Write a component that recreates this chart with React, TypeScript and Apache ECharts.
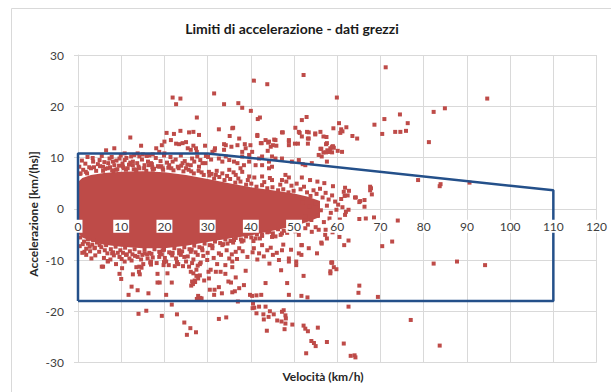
import React, { useEffect, useRef } from "react";
import * as echarts from "echarts";

// Acceleration limits envelope (speed km/h, acceleration km/(h·s))
const limitSpeed = [0, 0, 30, 110, 110, 0];
const limitAccel = [-18, 10.8, 10.8, 3.6, -18, -18];

// Dense core of the raw samples: upper and lower edge per speed
const coreSpeed = [0, 1, 3, 6, 10, 15, 20, 25, 30, 35, 40, 45, 50, 53, 56];
const coreTop = [5.2, 6.0, 6.6, 7.0, 7.2, 7.3, 7.1, 6.6, 5.8, 5.0, 4.2, 3.6, 3.0, 2.4, 1.5];
const coreBottom = [-4.8, -5.6, -6.3, -7.0, -7.4, -7.7, -7.7, -7.2, -6.5, -5.8, -5.2, -4.3, -3.4, -2.6, -1.6];

// Samples along the rim of the dense core
const cloudFringe: [number, number][] = [
  [0.4, 6.8], [1.2, 7.6], [2.1, 6.9], [3.0, 7.9], [4.2, 7.4], [5.1, 8.3], [6.3, 7.8], [7.4, 8.1],
  [8.2, 7.3], [9.5, 8.4], [10.6, 7.9], [11.8, 8.6], [12.9, 7.7], [14.0, 8.2], [15.3, 7.9], [16.4, 8.5],
  [17.6, 7.8], [18.5, 8.3], [19.7, 7.6], [20.9, 8.0], [22.1, 7.5], [23.3, 7.9], [24.4, 7.3], [25.6, 7.6],
  [26.8, 6.9], [27.9, 7.4], [29.1, 6.6], [30.4, 6.5], [31.5, 5.9], [32.7, 6.2], [33.9, 5.6], [35.2, 5.8],
  [36.4, 5.1], [37.6, 5.3], [38.9, 4.7], [40.1, 4.9], [41.3, 4.3], [42.6, 4.6], [43.8, 4.0], [45.0, 4.2],
  [46.3, 3.6], [47.5, 3.8], [48.7, 3.2], [49.9, 3.5],
  [0.5, -5.6], [1.4, -6.4], [2.3, -5.9], [3.3, -7.0], [4.4, -6.6], [5.4, -7.5], [6.5, -7.1], [7.6, -7.9],
  [8.7, -7.4], [9.8, -8.1], [10.9, -7.6], [12.0, -8.3], [13.1, -7.9], [14.2, -8.5], [15.4, -8.0], [16.5, -8.6],
  [17.7, -7.9], [18.8, -8.4], [19.9, -8.0], [21.1, -8.5], [22.3, -7.7], [23.4, -8.1], [24.6, -7.5], [25.8, -7.9],
  [26.9, -7.2], [28.1, -7.5], [29.3, -6.8], [30.5, -7.1], [31.7, -6.4], [32.9, -6.7], [34.1, -6.0], [35.3, -6.3],
  [36.5, -5.7], [37.7, -6.0], [38.9, -5.4], [40.1, -5.6], [41.4, -5.0], [42.6, -5.3], [43.8, -4.6], [45.1, -4.8],
  [46.3, -4.0], [47.6, -4.3], [48.8, -3.6], [50.0, -3.8],
];

// Speckled band just outside the rim
const outerFringe: [number, number][] = [
  [0.3, 8.2], [0.9, 9.4], [1.7, 8.8], [2.6, 8.1], [3.4, 9.9], [4.6, 8.7], [5.5, 10.3], [6.1, 9.1],
  [7.0, 8.9], [7.8, 10.1], [8.9, 9.4], [9.9, 10.4], [10.3, 8.8], [11.2, 9.9], [12.1, 9.0], [13.0, 10.5],
  [13.7, 8.9], [14.8, 9.6], [15.9, 10.3], [16.2, 9.2], [17.1, 8.7], [18.0, 9.9], [19.1, 9.3], [19.9, 10.4],
  [20.6, 9.0], [21.4, 10.1], [22.6, 9.6], [23.8, 10.4], [24.7, 9.3], [25.3, 8.6], [26.4, 9.8], [27.6, 10.2],
  [28.3, 9.5], [29.5, 8.9], [30.1, 10.1],
  [1.8, 7.2], [3.7, 8.1], [5.8, 7.4], [7.9, 7.5], [9.1, 7.7], [11.1, 7.6], [13.5, 7.5], [15.8, 7.4],
  [17.2, 8.1], [19.3, 8.3], [21.6, 7.9], [23.9, 8.4], [26.2, 7.3], [28.6, 7.1], [30.9, 6.8], [32.1, 7.4],
  [34.5, 6.4], [36.0, 7.1], [37.1, 5.9], [39.3, 5.6], [40.8, 6.1], [43.1, 5.2], [44.4, 6.0], [46.8, 4.7],
  [48.2, 5.3], [49.4, 4.5], [50.6, 4.9],
  [0.4, -7.3], [1.0, -8.6], [1.9, -7.8], [2.8, -8.3], [4.0, -9.1], [4.9, -8.4], [6.0, -9.6], [6.8, -8.7],
  [7.5, -9.9], [8.3, -9.1], [9.2, -8.6], [10.1, -9.8], [11.3, -8.9], [12.4, -10.1], [13.2, -9.2], [14.6, -9.9],
  [15.1, -10.8], [16.0, -8.9], [17.3, -9.5], [18.2, -10.6], [19.0, -8.8], [20.1, -9.6], [21.0, -11.0], [21.8, -9.1],
  [22.9, -10.4], [23.8, -9.0], [24.3, -11.2], [25.4, -9.3], [26.7, -9.9], [27.2, -8.5], [28.4, -10.5], [29.0, -9.2],
  [30.0, -8.6], [31.4, -9.6], [32.2, -10.8], [33.1, -9.0], [34.4, -8.1], [35.6, -8.9], [36.8, -9.8], [38.1, -8.3],
  [39.2, -9.4], [40.4, -8.5], [41.5, -9.9], [43.0, -9.3], [44.6, -7.6], [46.0, -8.6], [47.5, -7.0], [49.3, -8.0],
  [1.1, -6.9], [3.9, -7.6], [6.2, -8.1], [8.1, -8.5], [10.4, -8.6], [12.6, -8.9], [14.9, -9.0], [17.0, -8.8],
  [19.4, -8.9], [21.9, -8.6], [24.1, -8.3], [26.3, -8.0], [28.7, -7.7], [31.1, -7.2], [33.6, -6.9], [35.9, -6.6],
  [38.3, -6.2], [40.6, -6.3], [42.1, -5.8], [44.9, -5.5], [46.9, -5.1], [48.4, -4.7], [50.3, -4.4],
];

// Samples above the core
const aboveCloud: [number, number][] = [
  [52.2, 26.1], [40.7, 25.0], [43.8, 24.3], [21.9, 21.7], [23.7, 21.5], [22.7, 20.4], [31.5, 22.5], [33.8, 20.4],
  [37.1, 20.6], [38.0, 19.7], [40.0, 19.1], [27.5, 17.8], [41.6, 17.5], [42.1, 17.8], [51.8, 17.3], [52.9, 17.9],
  [32.6, 15.5], [35.9, 15.8], [50.3, 15.8], [12.1, 13.9], [20.5, 14.8], [22.2, 14.6], [23.7, 15.2], [25.7, 14.9],
  [26.7, 15.0], [28.0, 14.4], [35.1, 14.2], [41.5, 14.2], [47.4, 14.9], [51.3, 14.8], [53.4, 14.9], [54.9, 14.5],
  [56.1, 15.0], [57.5, 14.0], [53.2, 13.7], [53.2, 12.7], [59.1, 15.7], [14.6, 12.3], [19.4, 12.4], [20.0, 13.1],
  [21.5, 13.4], [22.7, 12.7], [23.4, 12.6], [24.2, 12.8], [25.0, 13.0], [26.7, 12.3], [29.4, 12.3], [31.6, 11.4],
  [33.8, 12.6], [35.5, 12.1], [38.6, 12.6], [40.3, 11.1], [42.5, 12.8], [44.0, 12.9], [45.4, 13.5], [44.6, 12.1],
  [45.9, 12.3], [48.8, 13.4], [48.8, 12.4], [50.2, 12.7], [50.9, 12.7], [57.4, 12.6], [56.1, 11.7], [56.8, 11.0],
  [58.3, 11.1], [6.5, 11.4], [8.4, 11.8], [10.8, 10.8], [43.9, 11.3], [13.8, 10.8], [14.2, 10.2], [15.0, 10.6],
  [16.5, 10.4], [17.3, 10.6], [18.1, 11.8], [18.8, 11.1], [20.0, 10.8], [25.4, 11.8], [27.3, 11.8], [27.5, 11.1],
  [26.1, 11.5], [5.0, 9.5], [3.5, 9.2], [7.3, 9.8], [8.1, 9.2], [9.6, 9.8], [10.8, 9.5], [12.3, 10.2],
  [12.7, 9.2], [5.8, 8.2], [6.9, 7.9], [8.4, 8.5], [8.8, 7.6], [10.4, 8.2], [11.5, 7.9], [12.7, 8.5],
  [13.4, 7.6], [14.2, 7.9], [15.4, 8.5], [16.9, 8.9], [17.3, 7.6], [18.8, 8.2], [19.6, 7.9], [21.1, 8.5],
  [21.9, 9.2], [23.1, 8.2], [24.2, 8.9], [25.0, 7.9], [26.1, 8.5], [26.9, 9.2], [28.0, 8.2], [28.8, 8.9],
  [31.7, 11.8], [31.1, 11.1], [33.8, 11.5], [34.2, 12.4], [35.7, 15.7], [37.3, 13.7], [36.9, 12.4], [38.0, 11.1],
  [38.8, 11.8], [39.9, 12.4], [38.0, 10.2], [39.6, 10.5], [41.5, 14.4], [42.3, 12.8], [43.4, 13.4], [44.2, 13.1],
  [45.1, 12.4], [45.7, 13.4], [47.2, 14.9], [48.8, 13.1], [51.1, 15.0], [51.8, 14.1], [53.0, 15.0], [53.4, 13.7],
  [54.9, 14.7], [56.8, 14.1], [57.6, 12.8], [58.0, 11.1], [58.8, 12.1], [32.6, 9.8], [33.4, 9.2], [34.2, 10.2],
  [35.0, 9.5], [36.1, 9.2], [36.9, 8.9], [37.6, 7.9], [38.4, 8.5], [39.6, 9.2], [41.1, 8.5], [41.9, 9.8],
  [42.6, 10.2], [44.2, 9.2], [44.9, 10.2], [45.7, 9.8], [47.2, 9.8], [49.5, 9.2], [51.1, 9.5], [52.6, 8.5],
  [54.1, 8.9], [55.7, 10.5], [56.4, 10.2], [57.6, 9.2], [30.3, 7.2], [31.9, 6.6], [33.4, 6.9], [35.0, 7.6],
  [36.5, 6.6], [38.0, 7.2], [39.6, 6.3], [42.6, 6.3], [44.2, 7.9], [44.9, 8.2], [48.0, 6.6], [48.8, 6.1],
  [42.6, 8.5], [47.2, 5.6], [51.8, 6.1], [44.9, 5.6], [52.0, 8.7], [56.3, 11.7], [57.4, 11.0], [58.8, 11.0],
  [59.2, 11.9], [60.1, 11.3], [0.6, 6.9], [2.2, 10.1], [30.8, 9.6], [29.6, 10.3],
];

// Thinning tail of the core towards higher speeds
const cloudTail: [number, number][] = [
  [51.5, 3.8], [52.3, 4.3], [53.0, 3.2], [53.8, 2.5], [54.5, 3.6], [55.2, 2.9], [56.0, 3.9], [56.6, 2.2],
  [57.3, 3.1], [58.0, 1.8], [58.8, 2.6], [59.5, 1.4], [60.2, 0.8], [60.9, 1.9], [52.0, 1.2], [53.5, 0.4],
  [54.9, 1.0], [56.2, -0.3], [57.6, 0.6], [58.5, -0.8], [59.8, -0.2], [61.2, 0.3], [62.0, -0.6], [52.6, -1.5],
  [54.0, -2.2], [55.5, -1.4], [56.9, -2.6], [58.2, -1.9], [59.4, -3.0], [60.6, -2.1], [61.8, -1.2], [53.2, -3.1],
  [55.0, -3.6], [57.3, -4.1], [58.9, -4.6], [60.1, -3.8], [62.4, 2.6], [61.5, 3.3], [59.0, 4.4], [57.0, 5.0],
  [55.4, 5.3], [53.7, 5.6], [61.8, 4.1], [62.7, 3.5], [67.6, 4.3], [67.6, 3.6], [67.8, 4.0], [64.3, 2.2],
  [68.0, 2.8], [61.7, 2.5], [65.3, 1.5], [66.3, 1.7], [66.3, 0.4], [62.6, -0.2], [65.1, -2.0], [68.5, -1.7],
  [74.0, -2.3], [64.1, 2.2], [65.1, 1.3], [66.6, -1.9],
];

// Samples below the core
const belowCloud: [number, number][] = [
  [3.5, -6.1], [2.3, -6.8], [2.7, -7.4], [5.0, -7.1], [3.8, -7.7], [1.9, -9.0], [3.1, -9.7], [6.9, -10.2],
  [5.8, -11.3], [7.9, -8.7], [9.6, -9.4], [11.1, -9.0], [11.9, -9.7], [10.8, -10.3], [13.8, -9.4], [15.4, -8.7],
  [16.1, -9.7], [16.9, -10.3], [14.2, -11.3], [18.8, -9.4], [20.4, -10.3], [19.6, -8.1], [21.5, -8.7], [22.7, -9.7],
  [23.4, -8.7], [24.6, -9.4], [25.0, -10.3], [26.1, -8.4], [27.7, -9.0], [28.8, -8.1], [29.9, -10.0], [31.1, -7.7],
  [32.6, -8.7], [33.4, -7.1], [34.6, -6.8], [35.0, -9.7], [36.5, -8.4], [37.3, -7.7], [37.9, -6.4], [36.1, -6.1],
  [40.7, -7.7], [41.9, -8.7], [42.6, -7.1], [43.8, -8.1], [45.1, -9.0], [46.5, -10.0], [47.2, -8.1], [48.8, -9.7],
  [51.1, -8.7], [51.8, -7.1], [53.4, -7.7], [55.3, -8.7], [56.4, -6.8], [57.6, -5.8], [41.1, -5.8], [42.6, -5.1],
  [44.2, -4.5], [45.7, -5.4], [47.2, -4.8], [48.8, -4.1], [51.1, -5.1], [52.6, -3.8], [54.1, -4.5], [55.7, -4.1],
  [57.2, -5.1], [1.5, -8.4], [5.5, -11.3], [6.9, -10.3], [8.8, -10.8], [10.2, -11.6], [9.6, -12.7], [10.0, -13.7],
  [12.7, -12.8], [13.5, -11.4], [14.1, -12.3], [14.3, -12.8], [14.7, -11.5], [16.7, -10.5], [16.9, -10.9], [12.4, -15.2],
  [13.8, -15.9], [11.7, -16.8], [16.3, -16.5], [18.4, -12.7], [18.4, -14.4], [18.9, -14.4], [19.8, -11.0], [19.9, -10.4],
  [20.7, -12.6], [21.7, -14.4], [20.4, -16.8], [22.4, -11.2], [23.2, -10.8], [25.7, -11.3], [26.4, -10.6], [27.7, -11.1],
  [28.2, -10.8], [27.4, -11.9], [26.7, -12.6], [26.1, -12.3], [28.2, -13.0], [27.8, -13.6], [27.0, -14.0], [26.4, -14.2],
  [26.2, -15.0], [27.1, -14.3], [26.6, -14.7], [27.4, -13.1], [29.2, -14.0], [30.3, -13.6], [30.2, -12.3], [30.7, -11.9],
  [31.9, -12.3], [33.0, -12.3], [34.1, -12.7], [34.1, -11.0], [35.7, -10.3], [35.7, -11.4], [32.6, -15.3], [31.6, -15.8],
  [30.5, -15.8], [27.8, -17.0], [28.3, -17.4], [28.6, -17.5], [27.5, -17.6], [28.0, -17.5], [33.3, -16.5], [31.5, -16.8],
  [34.8, -14.2], [35.4, -14.4], [36.5, -13.4], [37.3, -15.5], [38.4, -14.9], [36.3, -16.1], [35.7, -16.3], [38.8, -12.1],
  [39.8, -16.8], [40.3, -17.0], [41.3, -16.9], [42.4, -16.8], [37.0, -18.1], [40.5, -18.5], [40.8, -19.3], [40.4, -19.4],
  [41.9, -19.1], [43.4, -19.1], [44.4, -20.0], [42.9, -20.6], [43.0, -21.6], [44.1, -21.1], [45.3, -20.6], [46.1, -21.8],
  [47.2, -20.1], [47.6, -19.8], [48.0, -20.8], [48.1, -21.4], [48.0, -22.4], [47.8, -23.5], [47.1, -22.0], [49.6, -22.6],
  [43.7, -23.8], [41.3, -20.4], [24.6, -22.2], [26.0, -23.3], [27.3, -24.1], [25.2, -24.6], [21.7, -18.7], [22.9, -20.6],
  [19.4, -20.9], [15.8, -19.9], [14.0, -20.5], [32.6, -21.5], [34.3, -21.2], [43.4, -14.5], [44.3, -10.7], [47.0, -12.0],
  [48.4, -14.5], [48.8, -16.8], [50.5, -11.0], [48.8, -10.3], [50.5, -10.3], [52.2, -13.1], [51.7, -17.0], [53.1, -17.3],
  [52.2, -22.8], [52.6, -23.4], [53.2, -23.9], [55.5, -23.2], [54.0, -25.8], [54.6, -26.2], [55.0, -26.8], [57.6, -26.0],
  [52.8, -28.2], [58.4, -12.6], [58.8, -10.5], [56.3, -6.6], [51.7, -7.1], [51.7, -9.0], [58.8, -10.5],
];

// Isolated samples at high speed or large acceleration
const farOutliers: [number, number][] = [
  [71.2, 27.6], [59.9, 21.7], [94.7, 21.5], [84.9, 19.6], [82.3, 18.9], [74.5, 18.4], [76.3, 16.7], [70.9, 17.5],
  [68.6, 16.4], [60.4, 16.7], [60.9, 15.5], [62.1, 15.9], [61.2, 15.1], [60.7, 14.8], [63.5, 14.2], [64.6, 13.7],
  [70.4, 14.6], [73.4, 15.0], [74.6, 15.0], [75.9, 15.2], [81.2, 13.0], [57.7, 11.4], [58.4, 11.8], [59.0, 12.2],
  [61.1, 11.1], [78.7, 5.6], [83.7, 4.4], [83.9, 4.8], [90.6, 5.1], [60.5, -5.5], [62.6, -6.2], [61.6, -7.1],
  [70.4, -7.3], [72.7, -6.4], [58.6, -10.5], [59.2, -11.4], [59.8, -11.8], [58.4, -12.2], [65.1, -15.0], [64.9, -16.4],
  [69.4, -17.2], [62.6, -19.1], [77.0, -21.7], [61.5, -26.3], [63.1, -28.7], [64.0, -28.6], [64.2, -29.0], [83.7, -26.7],
  [82.3, -10.7], [87.7, -10.3], [94.2, -11.0],
];

const RED = "#BE4B48";
const GRID = "#D9D9D9";
const FONT = "Lato, 'Open Sans', sans-serif";

export default function App() {
  const ref = useRef<HTMLDivElement>(null);

  useEffect(() => {
    if (!ref.current) return;
    const chart = echarts.init(ref.current, undefined, { renderer: "svg" });

    const samples = [...cloudFringe, ...outerFringe, ...aboveCloud, ...cloudTail, ...belowCloud, ...farOutliers];
    const limits = limitSpeed.map((s, i) => [s, limitAccel[i]]);

    const gridTop = 55;
    const gridBottom = 29.5;
    const plotHeight = 392 - gridTop - gridBottom;
    // tick labels of the speed axis sit on the zero line, above the data
    const zeroLineOffset = -plotHeight / 2;

    chart.setOption({
      animation: false,
      backgroundColor: "#fff",
      textStyle: { fontFamily: FONT },
      grid: { left: 78, right: 12, top: gridTop, bottom: gridBottom, containLabel: false },
      graphic: [
        {
          type: "rect",
          shape: { x: 11.5, y: 8.5, width: 640, height: 420 },
          style: { fill: "none", stroke: GRID, lineWidth: 1 },
          silent: true,
        },
        {
          type: "text",
          x: 292,
          y: 28,
          style: {
            text: "Limiti di accelerazione - dati grezzi",
            font: `bold 14px ${FONT}`,
            fill: "#1a1a1a",
            textAlign: "center",
            textVerticalAlign: "middle",
          },
        },
        {
          type: "text",
          x: 33,
          y: 214,
          rotation: Math.PI / 2,
          style: {
            text: "Accelerazione [km/(hs)]",
            font: `bold 12px ${FONT}`,
            fill: "#262626",
            textAlign: "center",
            textVerticalAlign: "middle",
          },
        },
        {
          type: "text",
          x: 323,
          y: 376,
          style: {
            text: "Velocità (km/h)",
            font: `bold 12px ${FONT}`,
            fill: "#262626",
            textAlign: "center",
            textVerticalAlign: "middle",
          },
        },
      ],
      xAxis: [
        {
          type: "value",
          min: 0,
          max: 120,
          interval: 10,
          position: "bottom",
          axisLine: { show: true, onZero: true, lineStyle: { color: GRID, width: 1 } },
          axisTick: { show: true, length: 4, lineStyle: { color: GRID } },
          axisLabel: { show: false },
          splitLine: { show: true, lineStyle: { color: GRID, width: 1 } },
        },
        {
          type: "value",
          min: 0,
          max: 120,
          interval: 10,
          position: "bottom",
          offset: zeroLineOffset,
          z: 10,
          axisLine: { show: false, onZero: false },
          axisTick: { show: false },
          splitLine: { show: false },
          axisLabel: {
            show: true,
            margin: 11,
            color: "#404040",
            fontSize: 12,
            fontFamily: FONT,
            backgroundColor: "#fff",
            padding: [1, 1, 0, 1],
          },
        },
      ],
      yAxis: [
        {
          type: "value",
          min: -30,
          max: 30,
          interval: 10,
          position: "left",
          axisLine: { show: true, onZero: false, lineStyle: { color: GRID, width: 1 } },
          axisTick: { show: true, length: 4, lineStyle: { color: GRID } },
          axisLabel: { margin: 14, color: "#404040", fontSize: 12, fontFamily: FONT },
          splitLine: { show: true, lineStyle: { color: GRID, width: 1 } },
        },
      ],
      series: [
        {
          type: "custom",
          name: "nucleo",
          xAxisIndex: 0,
          yAxisIndex: 0,
          silent: true,
          z: 2,
          data: [[coreSpeed[0], coreTop[0]]],
          renderItem: (_params: any, api: any) => {
            const pts: number[][] = [];
            for (let i = 0; i < coreSpeed.length; i++) pts.push(api.coord([coreSpeed[i], coreTop[i]]));
            for (let i = coreSpeed.length - 1; i >= 0; i--) pts.push(api.coord([coreSpeed[i], coreBottom[i]]));
            return { type: "polygon", shape: { points: pts }, style: { fill: RED } };
          },
        },
        {
          type: "scatter",
          name: "dati grezzi",
          xAxisIndex: 0,
          yAxisIndex: 0,
          z: 3,
          symbol: "rect",
          symbolSize: 4,
          itemStyle: { color: RED, opacity: 1 },
          data: samples,
        },
        {
          type: "line",
          name: "limiti",
          xAxisIndex: 0,
          yAxisIndex: 0,
          z: 4,
          showSymbol: false,
          symbol: "none",
          lineStyle: { color: "#24508A", width: 2.5 },
          data: limits,
        },
      ],
    });

    return () => chart.dispose();
  }, []);

  return <div ref={ref} style={{ width: 611, height: 392, position: "absolute", left: 0, top: 0 }} />;
}
